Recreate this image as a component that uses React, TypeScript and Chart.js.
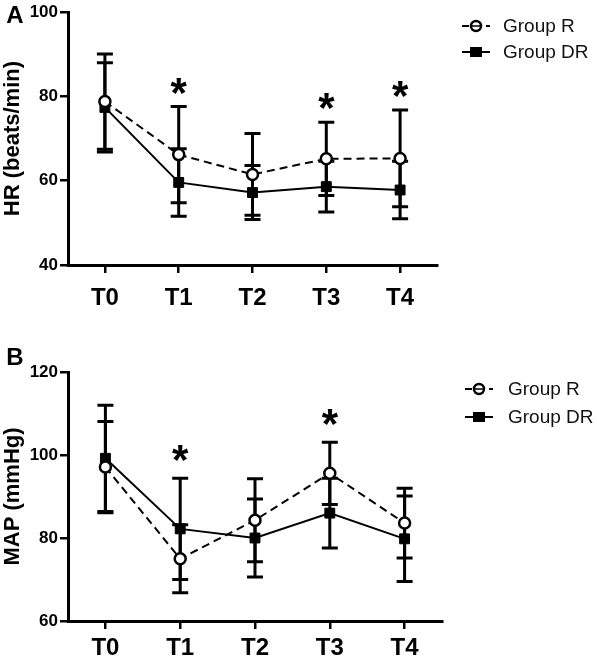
import React, { useEffect, useRef } from 'react';
import { Chart, registerables } from 'chart.js';

Chart.register(...registerables);

// ---------- data ----------
const timePoints = ['T0', 'T1', 'T2', 'T3', 'T4'];

// Panel A: heart rate (beats/min)
const hrGroupR = [78.8, 66.2, 61.5, 65.2, 65.3];
const hrGroupRSd = [11.3, 11.4, 9.7, 8.7, 11.5];
const hrGroupDR = [77.4, 59.6, 57.2, 58.6, 57.8];
const hrGroupDRSd = [10.6, 8.0, 6.4, 6.0, 6.8];
const hrSignificant = [1, 3, 4];
const hrTicks = [40, 60, 80, 100];

// Panel B: mean arterial pressure (mmHg)
const mapGroupR = [97.1, 75.0, 84.3, 95.6, 83.6];
const mapGroupRSd = [11.0, 8.2, 10.0, 7.5, 8.4];
const mapGroupDR = [99.2, 82.2, 80.0, 86.0, 79.8];
const mapGroupDRSd = [12.8, 12.2, 9.4, 8.4, 10.3];
const mapSignificant = [1, 3];
const mapTicks = [60, 80, 100, 120];

const seriesNames = ['Group R', 'Group DR'];

const BOLD = "'Liberation Sans', Arial, Helvetica, sans-serif";
const REG = "'Liberation Sans', Arial, sans-serif";

type Panel = {
  letter: string;
  yTitle: string;
  ticks: number[];
  r: number[];
  rSd: number[];
  dr: number[];
  drSd: number[];
  sig: number[];
  width: number;
  height: number;
  padTop: number;
  padRight: number;
  xAxisH: number;
  xPad: number;
  letterY: number;
  starGap: number;
  legend: { segStart: number; segEnd: number; markerX: number; textX: number; rowY: number[] };
};

function drawCircle(ctx: CanvasRenderingContext2D, x: number, y: number) {
  ctx.save();
  ctx.setLineDash([]);
  ctx.beginPath();
  ctx.arc(x, y, 5, 0, Math.PI * 2);
  ctx.fillStyle = '#fff';
  ctx.fill();
  ctx.lineWidth = 2.5;
  ctx.strokeStyle = '#000';
  ctx.stroke();
  ctx.beginPath();
  ctx.lineWidth = 1.5;
  ctx.moveTo(x - 4, y);
  ctx.lineTo(x + 4, y);
  ctx.stroke();
  ctx.restore();
}

function makePlugin(p: Panel) {
  return {
    id: 'panelDecor' + p.letter,
    beforeDatasetsDraw(chart: any) {
      const ctx = chart.ctx as CanvasRenderingContext2D;
      const yScale = chart.scales.y;
      ctx.save();
      ctx.strokeStyle = '#000';
      ctx.lineWidth = 3;
      ctx.setLineDash([]);
      chart.data.datasets.forEach((ds: any, di: number) => {
        const meta = chart.getDatasetMeta(di);
        ds.data.forEach((v: number, i: number) => {
          const sd = ds.errorBars[i];
          const x = meta.data[i].x;
          const yt = yScale.getPixelForValue(v + sd);
          const yb = yScale.getPixelForValue(v - sd);
          ctx.beginPath();
          ctx.moveTo(x, yt);
          ctx.lineTo(x, yb);
          ctx.moveTo(x - 8, yt);
          ctx.lineTo(x + 8, yt);
          ctx.moveTo(x - 8, yb);
          ctx.lineTo(x + 8, yb);
          ctx.stroke();
        });
      });
      ctx.restore();
    },
    afterDraw(chart: any) {
      const ctx = chart.ctx as CanvasRenderingContext2D;
      const yScale = chart.scales.y;
      const xScale = chart.scales.x;
      ctx.save();
      // significance asterisks
      ctx.fillStyle = '#000';
      ctx.textAlign = 'center';
      ctx.textBaseline = 'alphabetic';
      const aSize = 42;
      ctx.font = `bold ${aSize}px ${BOLD}`;
      p.sig.forEach((i) => {
        let top = Infinity;
        chart.data.datasets.forEach((ds: any) => {
          top = Math.min(top, yScale.getPixelForValue(ds.data[i] + ds.errorBars[i]));
        });
        const cx = xScale.getPixelForValue(i);
        const cy = top - p.starGap;
        ctx.fillText('*', cx, cy + aSize * 0.55);
      });
      // panel letter
      ctx.font = `bold 24px ${BOLD}`;
      ctx.textAlign = 'center';
      ctx.textBaseline = 'middle';
      ctx.fillText(p.letter, 15, p.letterY);
      // legend
      const L = p.legend;
      ctx.font = `19px ${REG}`;
      ctx.textAlign = 'left';
      ctx.textBaseline = 'middle';
      ctx.fillStyle = '#111';
      seriesNames.forEach((name, k) => {
        const y = L.rowY[k];
        ctx.save();
        ctx.strokeStyle = '#000';
        ctx.lineWidth = 2;
        ctx.setLineDash(k === 0 ? [7, 5] : []);
        ctx.beginPath();
        ctx.moveTo(L.segStart, y);
        ctx.lineTo(L.segEnd, y);
        ctx.stroke();
        ctx.restore();
        if (k === 0) {
          drawCircle(ctx, L.markerX, y);
        } else {
          ctx.save();
          ctx.fillStyle = '#000';
          ctx.fillRect(L.markerX - 6, y - 5, 12, 10);
          ctx.restore();
        }
        ctx.fillText(name, L.textX, y + 1);
      });
      ctx.restore();
    },
  };
}

function buildChart(canvas: HTMLCanvasElement, p: Panel) {
  const gridCfg = {
    display: true,
    drawOnChartArea: false,
    drawTicks: true,
    tickLength: 8,
    tickWidth: 2.5,
    tickColor: '#000',
    color: '#000',
    lineWidth: 2.5,
  };
  const borderCfg = { display: true, color: '#000', width: 3 };
  return new Chart(canvas, {
    type: 'line',
    data: {
      labels: timePoints,
      datasets: [
        {
          label: seriesNames[0],
          data: p.r,
          errorBars: p.rSd,
          borderColor: '#000',
          borderWidth: 2,
          borderDash: [8, 5],
          pointStyle: 'circle',
          pointRadius: 5.5,
          pointBorderWidth: 2.5,
          pointBackgroundColor: '#fff',
          pointBorderColor: '#000',
          fill: false,
          tension: 0,
          clip: false,
        } as any,
        {
          label: seriesNames[1],
          data: p.dr,
          errorBars: p.drSd,
          borderColor: '#000',
          borderWidth: 2,
          pointStyle: 'rect',
          pointRadius: 7,
          pointBorderWidth: 1,
          pointBackgroundColor: '#000',
          pointBorderColor: '#000',
          fill: false,
          tension: 0,
          clip: false,
        } as any,
      ],
    },
    options: {
      responsive: false,
      maintainAspectRatio: false,
      animation: false,
      layout: {
        autoPadding: false,
        padding: { left: 0, top: p.padTop, right: p.padRight, bottom: 0 },
      },
      plugins: { legend: { display: false }, tooltip: { enabled: false } },
      scales: {
        x: {
          type: 'category',
          offset: true,
          grid: gridCfg,
          border: borderCfg,
          ticks: {
            color: '#000',
            font: { family: BOLD, size: 24, weight: 'bold' },
            padding: p.xPad,
            maxRotation: 0,
            autoSkip: false,
          },
          afterFit: (s: any) => {
            s.height = p.xAxisH;
          },
        },
        y: {
          min: p.ticks[0],
          max: p.ticks[p.ticks.length - 1],
          afterBuildTicks: (s: any) => {
            s.ticks = p.ticks.map((v) => ({ value: v }));
          },
          grid: gridCfg,
          border: borderCfg,
          ticks: {
            color: '#000',
            font: { family: BOLD, size: 17, weight: 'bold' },
            padding: 2,
          },
          title: {
            display: true,
            text: p.yTitle,
            color: '#000',
            font: { family: BOLD, size: 22, weight: 'bold' },
            padding: { top: 0, bottom: 0 },
          },
          afterFit: (s: any) => {
            s.width = 68;
          },
        },
      },
    } as any,
    plugins: [makePlugin(p)],
  });
}

const panelA: Panel = {
  letter: 'A',
  yTitle: 'HR (beats/min)',
  ticks: hrTicks,
  r: hrGroupR,
  rSd: hrGroupRSd,
  dr: hrGroupDR,
  drSd: hrGroupDRSd,
  sig: hrSignificant,
  width: 597,
  height: 325,
  padTop: 7,
  padRight: 160,
  xAxisH: 60,
  xPad: 11,
  letterY: 16,
  starGap: 23,
  legend: { segStart: 462, segEnd: 490, markerX: 476, textX: 503, rowY: [26, 52] },
};

const panelB: Panel = {
  letter: 'B',
  yTitle: 'MAP (mmHg)',
  ticks: mapTicks,
  r: mapGroupR,
  rSd: mapGroupRSd,
  dr: mapGroupDR,
  drSd: mapGroupDRSd,
  sig: mapSignificant,
  width: 597,
  height: 335,
  padTop: 47,
  padRight: 155,
  xAxisH: 39,
  xPad: 5,
  letterY: 33,
  starGap: 27,
  legend: { segStart: 465, segEnd: 493, markerX: 479, textX: 508, rowY: [64, 92] },
};

export default function App() {
  const refA = useRef<HTMLCanvasElement | null>(null);
  const refB = useRef<HTMLCanvasElement | null>(null);

  useEffect(() => {
    const charts: Chart[] = [];
    if (refA.current) charts.push(buildChart(refA.current, panelA));
    if (refB.current) charts.push(buildChart(refB.current, panelB));
    return () => {
      charts.forEach((c) => c.destroy());
    };
  }, []);

  return (
    <div style={{ position: 'absolute', left: 0, top: 0, width: 597, height: 660, background: '#fff' }}>
      <canvas
        ref={refA}
        width={panelA.width}
        height={panelA.height}
        style={{ position: 'absolute', left: 0, top: 0, width: panelA.width, height: panelA.height }}
      />
      <canvas
        ref={refB}
        width={panelB.width}
        height={panelB.height}
        style={{ position: 'absolute', left: 0, top: panelA.height, width: panelB.width, height: panelB.height }}
      />
    </div>
  );
}
